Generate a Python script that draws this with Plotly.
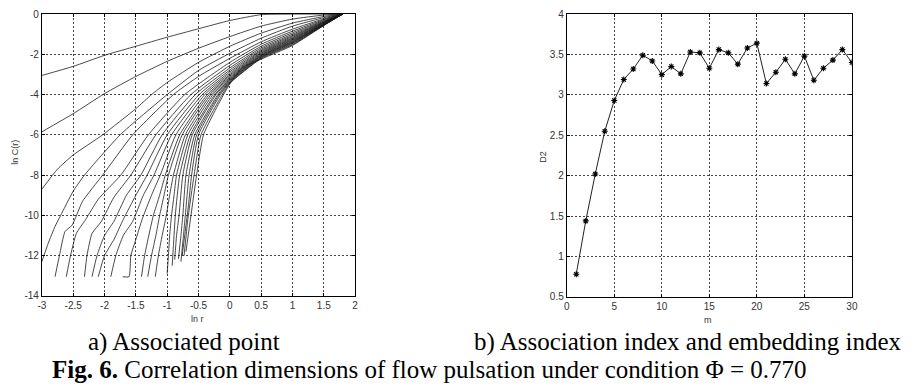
import plotly.graph_objects as go

# ---------------- data: (a) ln C(r) vs ln r, one curve per embedding dimension ----------------
ln_r_curves = [
    [-3, -2.5, -2, -1.5, -1, -0.5, 0, 0.5, 1.0, 1.8],
    [-3, -2.5, -2, -1.5, -1, -0.5, 0, 0.5, 1.0, 1.5, 1.8],
    [-3, -2.75, -2.5, -2.03, -1.5, -1.25, -1, -0.5, 0, 0.5, 1, 1.5, 1.8],
    [-3, -2.9, -2.79, -2.7, -2.5, -2.32, -1.75, -1.0, -0.5, 0, 0.5, 1, 1.5, 1.8],
    [-2.79, -2.72, -2.63, -2.52, -2.35, -2.03, -1.55, -0.9, -0.5, 0, 0.5, 1, 1.5, 1.8],
    [-2.61, -2.55, -2.45, -2.3, -2.1, -1.74, -1.3, -0.72, 0, 0.5, 1, 1.5, 1.8],
    [-2.32, -2.28, -2.2, -2.05, -1.85, -1.58, -1.18, -0.62, 0, 0.5, 1, 1.5, 1.8],
    [-2.2, -2.12, -2.0, -1.85, -1.65, -1.42, -1.08, -0.55, 0, 0.5, 1, 1.5, 1.8],
    [-2.1, -2.0, -1.85, -1.7, -1.5, -1.32, -1.0, -0.49, 0, 0.5, 1, 1.5, 1.8],
    [-1.9, -1.82, -1.7, -1.55, -1.38, -1.21, -0.93, -0.44, 0, 0.5, 1, 1.5, 1.8],
    [-1.71, -1.61, -1.58, -1.5, -1.4, -1.25, -1.11, -0.86, -0.40, 0, 0.5, 1, 1.5, 1.8],
    [-1.41, -1.36, -1.3, -1.22, -1.12, -1.03, -0.80, -0.36, 0, 0.5, 1, 1.5, 1.8],
    [-1.31, -1.25, -1.18, -1.12, -1.05, -0.98, -0.76, -0.33, 0, 0.5, 1, 1.5, 1.8],
    [-1.19, -1.14, -1.08, -1.02, -0.96, -0.90, -0.71, -0.30, 0, 0.5, 1, 1.5, 1.8],
    [-1.0, -0.98, -0.96, -0.93, -0.89, -0.85, -0.67, -0.27, 0, 0.5, 1, 1.5, 1.8],
    [-0.92, -0.9, -0.87, -0.8, -0.63, -0.24, 0, 0.5, 1, 1.5, 1.8],
    [-0.88, -0.85, -0.81, -0.75, -0.6, -0.22, 0, 0.5, 1, 1.5, 1.8],
    [-0.82, -0.78, -0.75, -0.70, -0.56, -0.19, 0, 0.5, 1, 1.5, 1.8],
    [-0.78, -0.74, -0.71, -0.65, -0.53, -0.17, 0, 0.5, 1, 1.5, 1.8],
    [-0.76, -0.7, -0.66, -0.61, -0.5, -0.15, 0, 0.5, 1, 1.5, 1.8],
    [-0.73, -0.67, -0.57, -0.46, -0.12, 0, 0.5, 1, 1.5, 1.8],
    [-0.70, -0.62, -0.53, -0.42, -0.10, 0, 0.2, 0.5, 1, 1.5, 1.8],
]
ln_C_curves = [
    [-3.05, -2.6, -2.05, -1.6, -1.15, -0.73, -0.32, -0.03, 0, 0],
    [-5.85, -4.95, -3.95, -3.1, -2.35, -1.7, -1.12, -0.6, -0.25, -0.05, 0],
    [-8.7, -7.7, -7.0, -6.0, -4.7, -4.0, -3.4, -2.4, -1.6, -0.95, -0.45, -0.12, 0],
    [-12.3, -11.4, -10.55, -10.0, -8.8, -8.0, -6.0, -4.0, -2.8, -1.95, -1.2, -0.6, -0.18, 0],
    [-13.05, -12.0, -10.8, -10.5, -9.3, -8, -6, -4, -3.1, -2.2, -1.38, -0.75, -0.24, 0],
    [-13.05, -12.1, -10.9, -10.2, -9.2, -8, -6, -4, -2.4, -1.5, -0.85, -0.28, 0],
    [-13.05, -12, -10.9, -10.3, -9.1, -8, -6, -4, -2.55, -1.6, -0.93, -0.32, 0],
    [-13.05, -12, -11, -10.3, -9, -8, -6, -4, -2.68, -1.68, -1.0, -0.35, 0],
    [-13.05, -12, -11.2, -10.2, -9, -8, -6, -4, -2.78, -1.75, -1.06, -0.38, 0],
    [-13.05, -12, -11, -10.3, -9, -8, -6, -4, -2.87, -1.81, -1.11, -0.4, 0],
    [-13.05, -13.05, -12, -11.2, -10.2, -9, -8, -6, -4, -2.95, -1.86, -1.16, -0.42, 0],
    [-13.05, -12, -11.1, -10, -9, -8, -6, -4, -3.02, -1.91, -1.2, -0.44, 0],
    [-13.05, -12, -11, -10, -9, -8, -6, -4, -3.08, -1.95, -1.24, -0.46, 0],
    [-13.05, -12, -11, -10.1, -9, -8, -6, -4, -3.14, -1.99, -1.28, -0.48, 0],
    [-12.9, -12, -11, -10, -9, -8, -6, -4, -3.19, -2.03, -1.31, -0.5, 0],
    [-12.5, -11.5, -10, -8, -6, -4, -3.24, -2.06, -1.35, -0.51, 0],
    [-12.2, -11, -10, -8, -6, -4, -3.28, -2.09, -1.38, -0.52, 0],
    [-12.16, -11, -10, -8, -6, -4, -3.32, -2.12, -1.41, -0.53, 0],
    [-12.3, -11, -10, -8, -6, -4, -3.36, -2.15, -1.44, -0.54, 0],
    [-12.0, -10.5, -9.5, -8, -6, -4, -3.4, -2.18, -1.48, -0.55, 0],
    [-12.0, -10.2, -8, -6, -4, -3.44, -2.21, -1.52, -0.56, 0],
    [-11.8, -10, -8, -6, -4, -3.48, -2.66, -2.24, -1.56, -0.57, 0],
]

# ---------------- data: (b) correlation dimension D2 vs embedding dimension m ----------------
m_vals = list(range(1, 31))
d2_vals = [0.78, 1.44, 2.02, 2.55, 2.93, 3.19, 3.32, 3.49, 3.42, 3.25,
           3.35, 3.26, 3.53, 3.52, 3.33, 3.56, 3.52, 3.38, 3.58, 3.64,
           3.14, 3.28, 3.44, 3.26, 3.48, 3.18, 3.33, 3.43, 3.56, 3.40]

# ---------------- tick labels ----------------
lnr_tickvals = [-3, -2.5, -2, -1.5, -1, -0.5, 0, 0.5, 1, 1.5, 2]
lnr_ticktext = ["-3", "-2.5", "-2", "-1.5", "-1", "-0.5", "0", "0.5", "1", "1.5", "2"]
lnC_tickvals = [-14, -12, -10, -8, -6, -4, -2, 0]
lnC_ticktext = ["-14", "-12", "-10", "-8", "-6", "-4", "-2", "0"]
m_tickvals = [0, 5, 10, 15, 20, 25, 30]
d2_tickvals = [0.5, 1, 1.5, 2, 2.5, 3, 3.5, 4]
d2_ticktext = ["0.5", "1", "1.5", "2", "2.5", "3", "3.5", "4"]

W, H = 910, 389

fig = go.Figure()
for r, c in zip(ln_r_curves, ln_C_curves):
    fig.add_trace(go.Scatter(
        x=r, y=c, mode="lines", xaxis="x", yaxis="y", showlegend=False, hoverinfo="skip",
        line=dict(color="#1a1a1a", width=0.8, shape="spline", smoothing=0.5)))

fig.add_trace(go.Scatter(
    x=m_vals, y=d2_vals, mode="lines+markers", xaxis="x2", yaxis="y2", showlegend=False,
    line=dict(color="#222222", width=1),
    marker=dict(symbol="asterisk-open", size=5, color="#000000",
                line=dict(width=1.1, color="#000000"))))

tickfont = dict(family="Liberation Sans, Arial, sans-serif", size=10, color="#333333")
common = dict(showgrid=True, gridcolor="#444444", griddash="2px,2px", gridwidth=1,
              zeroline=False, showline=True, linecolor="#000000", linewidth=1,
              mirror="allticks", ticks="inside", ticklen=3, tickcolor="#000000",
              tickfont=tickfont)

def px2x(px):
    return px / W

def py2y(py):
    return 1 - py / H

fig.update_layout(
    width=W, height=H, margin=dict(l=0, r=0, t=0, b=0),
    paper_bgcolor="white", plot_bgcolor="white",
    xaxis=dict(domain=[px2x(38.3), px2x(355)], range=[-3, 2], anchor="y",
               tickmode="array", tickvals=lnr_tickvals, ticktext=lnr_ticktext, **common),
    yaxis=dict(domain=[py2y(298.3), py2y(8.3)], range=[-14, 0], anchor="x",
               tickmode="array", tickvals=lnC_tickvals, ticktext=lnC_ticktext, **common),
    xaxis2=dict(domain=[px2x(569), px2x(857.3)], range=[0, 30], anchor="y2",
                tickmode="array", tickvals=m_tickvals, **common),
    yaxis2=dict(domain=[py2y(299.3), py2y(8.3)], range=[0.5, 4], anchor="x2",
                tickmode="array", tickvals=d2_tickvals, ticktext=d2_ticktext, **common),
)

small = dict(family="Liberation Sans, Arial, sans-serif", size=9, color="#333333")
serif = dict(family="Liberation Serif, Times New Roman, serif", size=25, color="#000000")
annos = [
    dict(text="ln r", x=px2x(196), y=py2y(322), font=small),
    dict(text="ln C(r)", x=px2x(11), y=py2y(150), font=small, textangle=-90),
    dict(text="m", x=px2x(712), y=py2y(323), font=small),
    dict(text="D2", x=px2x(545), y=py2y(155), font=small, textangle=-90),
    dict(text="a) Associated point", x=px2x(181.5), y=py2y(346), font=serif),
    dict(text="b) Association index and embedding index", x=px2x(692), y=py2y(346), font=serif),
    dict(text="<b>Fig. 6.</b> Correlation dimensions of flow pulsation under condition \u03a6 = 0.770",
         x=px2x(430), y=py2y(374), font=serif),
]
for a in annos:
    fig.add_annotation(xref="paper", yref="paper", showarrow=False,
                       xanchor="center", yanchor="middle", **a)

fig.write_html("out.html")
